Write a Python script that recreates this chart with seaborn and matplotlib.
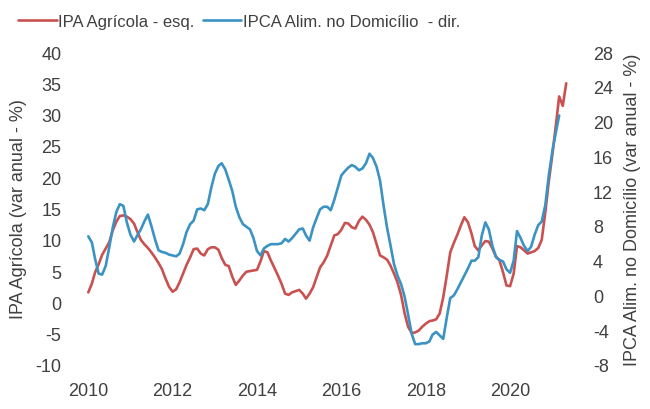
import matplotlib
matplotlib.use("Agg")
import matplotlib.pyplot as plt
import matplotlib.dates as mdates
import pandas as pd
import seaborn as sns

# Monthly year-over-year changes (%), starting Jan 2010
ipa_agricola = [
    1.6, 3.0, 4.8, 6.1, 7.6, 8.6, 9.6, 11.5, 12.9, 13.8, 13.9, 13.7,
    13.3, 12.6, 11.3, 10.0, 9.3, 8.7, 8.0, 7.2, 6.3, 5.3, 3.8, 2.5,
    1.7, 2.1, 3.2, 4.6, 6.0, 7.2, 8.5, 8.6, 7.8, 7.5, 8.5, 8.8,
    8.8, 8.4, 7.1, 6.0, 5.8, 4.1, 2.8, 3.5, 4.3, 4.9, 5.0, 5.1,
    5.2, 6.6, 8.2, 8.0, 6.7, 5.5, 4.3, 3.0, 1.4, 1.2, 1.6, 1.8,
    2.0, 1.4, 0.6, 1.4, 2.4, 4.0, 5.6, 6.4, 7.5, 9.1, 10.7, 10.9,
    11.6, 12.7, 12.6, 12.0, 11.8, 13.0, 13.7, 13.2, 12.4, 11.2, 9.3, 7.5,
    7.2, 6.8, 5.9, 4.6, 3.2, 1.2, -1.7, -3.9, -4.9, -4.8, -4.5, -3.9,
    -3.4, -3.0, -2.9, -2.7, -1.8, 0.8, 4.2, 8.0, 9.5, 10.8, 12.3, 13.6,
    12.8, 11.0, 9.0, 8.3, 9.1, 9.8, 9.7, 8.6, 7.3, 6.7, 4.8, 2.7,
    2.6, 4.6, 9.0, 8.8, 8.3, 7.8, 8.0, 8.2, 8.7, 10.0, 14.4, 19.3,
    23.6, 28.4, 32.9, 31.4, 35.0,
]

ipca_alim_domicilio = [
    6.8, 6.1, 4.2, 2.5, 2.4, 3.4, 5.5, 7.8, 9.6, 10.5, 10.3, 8.4,
    7.0, 6.2, 6.9, 7.6, 8.5, 9.3, 8.0, 6.5, 5.2, 5.0, 4.9, 4.7,
    4.6, 4.5, 4.8, 5.9, 7.3, 8.2, 8.6, 9.9, 10.0, 9.8, 10.5, 12.4,
    14.0, 14.9, 15.2, 14.5, 13.3, 12.0, 10.2, 9.0, 8.2, 7.9, 7.6, 6.6,
    5.1, 4.6, 5.4, 5.7, 5.9, 5.9, 5.9, 6.0, 6.5, 6.2, 6.6, 7.1,
    7.6, 7.7, 6.9, 6.3, 7.8, 8.9, 9.9, 10.2, 10.2, 9.8, 11.0, 12.4,
    13.8, 14.3, 14.7, 15.0, 14.8, 14.4, 14.6, 15.2, 16.3, 15.8, 14.8, 13.2,
    10.3, 7.7, 5.8, 3.6, 2.3, 1.3, -0.1, -2.2, -4.4, -5.6, -5.6, -5.5,
    -5.5, -5.3, -4.5, -4.2, -4.6, -5.0, -2.6, -0.3, 0.0, 0.7, 1.5, 2.3,
    3.1, 4.0, 4.0, 4.4, 6.9, 8.4, 7.6, 5.7, 4.4, 4.1, 3.9, 3.0,
    2.6, 4.0, 7.4, 6.6, 5.7, 5.1, 5.6, 7.0, 8.1, 8.5, 10.4, 13.8,
    16.6, 18.8, 20.7,
]

left_ticks = [-10, -5, 0, 5, 10, 15, 20, 25, 30, 35, 40]
right_ticks = [-8, -4, 0, 4, 8, 12, 16, 20, 24, 28]

label_ipa = "IPA Agrícola - esq."
label_ipca = "IPCA Alim. no Domicílio  - dir."
ylabel_left = "IPA Agrícola (var anual - %)"
ylabel_right = "IPCA Alim. no Domicílio (var anual - %)"

df_ipa = pd.DataFrame({
    "data": pd.date_range("2010-01-01", periods=len(ipa_agricola), freq="MS"),
    "valor": ipa_agricola,
})
df_ipca = pd.DataFrame({
    "data": pd.date_range("2010-01-01", periods=len(ipca_alim_domicilio), freq="MS"),
    "valor": ipca_alim_domicilio,
})

sns.set_theme(style="white")
plt.rcParams["font.family"] = ["Liberation Sans", "DejaVu Sans"]
text_color = "#404040"
red = "#C9514F"
blue = "#3A93C3"

fig = plt.figure(figsize=(6.5, 4.1), dpi=100)
ax = fig.add_axes([78 / 650, 1 - 366 / 410, (575 - 78) / 650, (366 - 53) / 410])
ax2 = ax.twinx()

sns.lineplot(data=df_ipa, x="data", y="valor", ax=ax, color=red, linewidth=1.9,
             label=label_ipa, legend=False)
sns.lineplot(data=df_ipca, x="data", y="valor", ax=ax2, color=blue, linewidth=1.9,
             label=label_ipca, legend=False)

ax.set_ylim(-10, 40)
ax2.set_ylim(-8, 28)
ax.set_yticks(left_ticks)
ax2.set_yticks(right_ticks)
ax.set_yticklabels([str(t) for t in left_ticks])
ax2.set_yticklabels([str(t) for t in right_ticks])

ax.set_xlim(pd.Timestamp("2009-10-04"), pd.Timestamp("2021-07-16"))
ax.xaxis.set_major_locator(mdates.YearLocator(2))
ax.xaxis.set_major_formatter(mdates.DateFormatter("%Y"))

for a in (ax, ax2):
    for s in a.spines.values():
        s.set_visible(False)
    a.tick_params(axis="both", length=0, labelsize=13, colors=text_color)
    a.grid(False)

ax.tick_params(axis="y", pad=12)
ax2.tick_params(axis="y", pad=13)
ax.tick_params(axis="x", pad=12)

ax.set_xlabel("")
ax.set_ylabel(ylabel_left, fontsize=13, color=text_color, labelpad=6)
ax2.set_ylabel(ylabel_right, fontsize=13, color=text_color, labelpad=8)

handles = ax.get_lines()[:1] + ax2.get_lines()[:1]
fig.legend(handles, [label_ipa, label_ipca], loc="upper left",
           bbox_to_anchor=(0.005, 1.0), ncol=2, frameon=False, fontsize=12,
           handlelength=2.3, handletextpad=0.1, columnspacing=0.5,
           labelcolor=text_color)

fig.savefig("out.png", dpi=100)
